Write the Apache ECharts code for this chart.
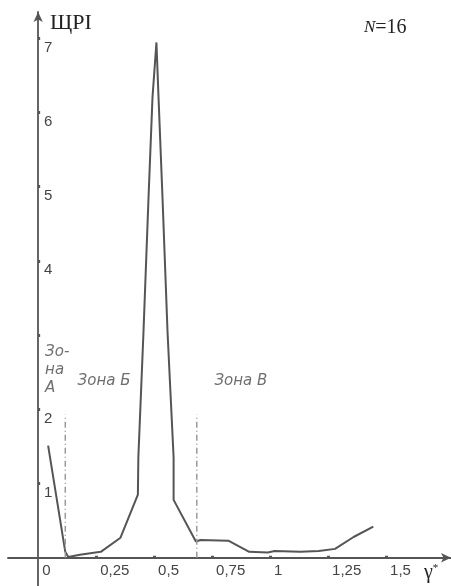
<!DOCTYPE html>
<html><head><meta charset="utf-8">
<script src="https://cdn.jsdelivr.net/npm/echarts@6/dist/echarts.min.js"></script>
<style>html,body{margin:0;padding:0;background:#fff}#c{width:451px;height:586px}</style>
</head><body><div id="c"></div>
<script>
// Curve (γ*, ЩРІ)
const gammaValues = [0.043,0.117,0.13,0.18,0.27,0.355,0.43,0.432,0.454,0.476,0.493,0.51,0.519,0.536,0.558,0.584,0.584,0.68,0.70,0.82,0.91,0.99,1.02,1.13,1.21,1.28,1.36,1.445];
const shriValues  = [1.51,0.08,0.01,0.04,0.08,0.27,0.85,1.35,3.03,4.86,6.2,6.94,6.2,4.86,3.03,1.35,0.78,0.22,0.24,0.23,0.08,0.07,0.09,0.08,0.09,0.12,0.28,0.42];
const xTicks = [0,0.25,0.5,0.75,1,1.25,1.5];
const yTicks = [1,2,3,4,5,6,7];
const yTickLabels = [1,2,4,5,6,7];
const zoneBounds = [0.117,0.684];
const zoneBoundTop = 1.93;
const zoneLabels = [
  {x:0.03,y:2.53,text:'Зо-\nна\nА'},
  {x:0.17,y:2.38,text:'Зона Б'},
  {x:0.76,y:2.38,text:'Зона В'}
];

const chart = echarts.init(document.getElementById('c'));
const curve = gammaValues.map((g,i)=>[g,shriValues[i]]);
const series = [{
  type:'line', data:curve, symbol:'none', silent:true,
  lineStyle:{color:'#555',width:2}
}];
zoneBounds.forEach(b=>series.push({
  type:'line', data:[[b,0],[b,zoneBoundTop]], symbol:'none', silent:true,
  lineStyle:{color:'#9a9a9a',width:1.5,type:[6,3,1,3]}
}));
series.push({
  type:'scatter', symbolSize:0, silent:true,
  data:zoneLabels.map(z=>({value:[z.x,z.y],label:{formatter:z.text}})),
  label:{show:true,position:'right',distance:0,fontFamily:'DejaVu Sans',fontStyle:'italic',fontSize:15,color:'#4a4a4a',lineHeight:18,align:'left',verticalAlign:'middle'}
});

chart.setOption({
  animation:false,
  grid:{left:8,right:0,top:12,bottom:0,containLabel:false,outerBoundsMode:'none'},
  xAxis:{type:'value',min:-0.13,max:1.78,
    axisLine:{onZero:true,lineStyle:{color:'#555',width:1.8},symbol:['none','arrow'],symbolSize:[7,10]},
    axisTick:{show:true,customValues:xTicks.slice(1),length:2,inside:true,lineStyle:{color:'#555',width:3}},
    axisLabel:{customValues:xTicks,formatter:v=>String(v).replace('.',','),align:'left',verticalAlign:'top',margin:-23,padding:[0,0,0,4],fontFamily:'Liberation Sans',fontSize:15,color:'#444'},
    splitLine:{show:false}},
  yAxis:{type:'value',min:-0.38,max:7.35,
    axisLine:{onZero:true,lineStyle:{color:'#555',width:1.8},symbol:['none','arrow'],symbolSize:[7,10]},
    axisTick:{show:true,customValues:yTicks,length:2,inside:true,lineStyle:{color:'#555',width:3}},
    axisLabel:{customValues:yTickLabels,align:'left',verticalAlign:'top',margin:-36,padding:[2,0,0,0],fontFamily:'Liberation Sans',fontSize:15,color:'#444'},
    splitLine:{show:false}},
  series:series,
  graphic:[
    {type:'text',left:50,top:12,style:{text:'ЩРІ',font:'22px "Liberation Serif"',fill:'#222'}},
    {type:'text',left:364,top:18,style:{text:'{i|N}{n|=16}',rich:{i:{fontFamily:'Liberation Serif',fontStyle:'italic',fontSize:17,fill:'#222'},n:{fontFamily:'Liberation Serif',fontSize:20,fill:'#222'}}}},
    {type:'text',left:424,top:563,style:{text:'{g|γ}{s|*}',rich:{g:{fontFamily:'Liberation Serif',fontSize:20,fill:'#222'},s:{fontFamily:'Liberation Serif',fontSize:11,fill:'#222',verticalAlign:'top'}}}}
  ]
});
</script></body></html>
